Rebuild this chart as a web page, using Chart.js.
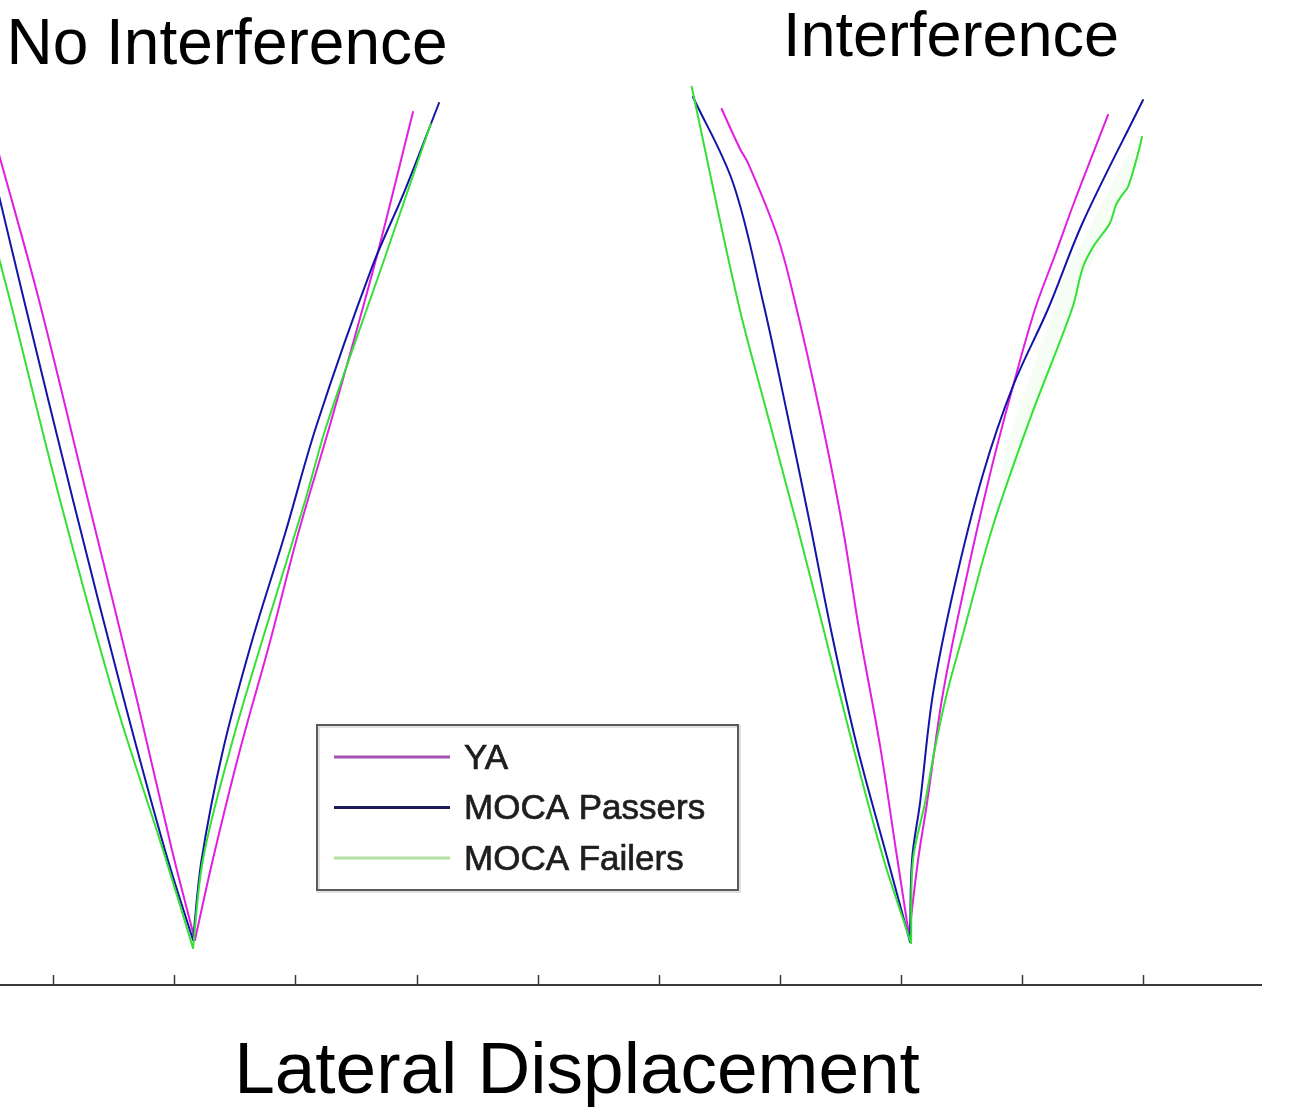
<!DOCTYPE html>
<html>
<head>
<meta charset="utf-8">
<title>Lateral Displacement</title>
<script src="https://cdn.jsdelivr.net/npm/chart.js@4.4.1/dist/chart.umd.min.js"></script>
<style>
  html, body { margin: 0; padding: 0; background: #ffffff; }
  #wrap { width: 1302px; height: 1107px; position: relative; }
</style>
</head>
<body>
<div id="wrap"><canvas id="chart" width="1302" height="1107"></canvas></div>
<script>
// x: lateral displacement (tick units), y: forward progress along the path (%)
const panelTitles = ['No Interference', 'Interference'];
const axisTitle = 'Lateral Displacement';
const seriesLabels = ['YA', 'MOCA Passers', 'MOCA Failers'];
const seriesColors = ['#e01fe0', '#1414a8', '#33e033'];
const legendLineColors = ['#a552b4', '#1c1c5c', '#b4e2a2'];

// No Interference
const yaNoIntX = [-0.558, -0.442, -0.120, 0.285, 0.690, 0.979, 1.169, 1.318, 1.541, 1.789, 2.021, 2.285, 2.657, 2.971];
const yaNoIntY = [97.44, 91.89, 76.11, 53.89, 31.67, 15.00, 5.00, 14.00, 26.11, 38.11, 50.11, 62.22, 80.22, 97.00];

const passNoIntX = [-0.640, -0.442, -0.244, 0.161, 0.583, 0.921, 1.153, 1.225, 1.401, 1.638, 1.913, 2.175, 2.630, 2.905, 3.186];
const passNoIntY = [98.33, 87.22, 76.11, 53.89, 31.67, 15.00, 5.00, 14.00, 26.11, 38.11, 50.11, 62.22, 79.67, 88.33, 98.00];

const failNoIntX = [-0.735, -0.442, -0.360, 0.054, 0.508, 0.905, 1.153, 1.236, 1.459, 1.721, 2.079, 2.258, 2.723, 3.117];
const failNoIntY = [96.11, 80.33, 76.11, 53.89, 31.67, 15.00, 4.11, 14.00, 26.11, 38.11, 53.78, 62.22, 80.22, 95.67];

// Interference
const yaIntX = [5.522, 5.674, 5.740, 5.979, 6.128, 6.335, 6.517, 6.665, 6.831, 6.971, 7.070, 7.145, 7.219, 7.351, 7.533, 7.740, 7.930, 8.112, 8.277, 8.442, 8.715];
const yaIntY = [97.33, 92.89, 91.33, 83.33, 75.89, 63.56, 51.22, 38.89, 26.56, 14.22, 5.56, 13.89, 20.22, 32.44, 44.56, 56.78, 66.56, 75.11, 81.11, 87.22, 96.67];

const passIntX = [5.285, 5.616, 5.864, 6.062, 6.252, 6.434, 6.640, 6.888, 7.079, 7.095, 7.161, 7.269, 7.450, 7.682, 7.930, 8.219, 8.508, 9.004];
const passIntY = [98.67, 89.11, 75.89, 63.56, 51.22, 38.89, 26.56, 14.22, 4.78, 13.89, 20.22, 32.44, 44.56, 56.78, 66.56, 75.11, 84.78, 98.33];

const failIntX = [5.274, 5.657, 5.897, 6.142, 6.376, 6.607, 6.855, 7.087, 7.103, 7.202, 7.285, 7.384, 7.508, 7.756, 8.070, 8.417, 8.508, 8.591, 8.649, 8.731, 8.781, 8.831, 8.880, 8.955, 8.996];
const failIntY = [99.81, 75.89, 63.56, 51.22, 38.89, 26.56, 14.22, 4.67, 13.89, 20.22, 26.33, 32.44, 38.56, 50.67, 62.89, 75.11, 79.78, 82.00, 83.11, 84.67, 86.67, 87.78, 88.67, 92.00, 94.22];

// Spread band around the MOCA Failers curve (Interference), traced as a closed outline
const failBandX = [8.996, 8.855, 8.673, 8.533, 8.351, 8.211, 8.029, 7.888, 7.822, 7.930, 8.045, 8.194, 8.384, 8.533, 8.698, 8.822, 8.979, 8.996];
const failBandY = [94.22, 91.67, 87.22, 83.33, 78.89, 72.78, 66.11, 60.56, 56.11, 56.11, 60.56, 66.11, 72.78, 78.89, 83.33, 87.22, 91.67, 94.22];

const pts = (xs, ys) => xs.map((x, i) => ({ x: x, y: ys[i] }));

const curves = [
  { s: 0, x: yaNoIntX, y: yaNoIntY },
  { s: 1, x: passNoIntX, y: passNoIntY },
  { s: 2, x: failNoIntX, y: failNoIntY },
  { s: 0, x: yaIntX, y: yaIntY },
  { s: 1, x: passIntX, y: passIntY },
  { s: 2, x: failIntX, y: failIntY }
];

// Each trajectory is drawn as two smoothed branches that meet at its lowest point,
// so the turning point stays sharp.
const datasets = [];
curves.forEach(c => {
  const p = pts(c.x, c.y);
  let k = 0;
  p.forEach((q, i) => { if (q.y < p[k].y) k = i; });
  [p.slice(0, k + 1), p.slice(k)].forEach(branch => {
    datasets.push({
      label: seriesLabels[c.s],
      data: branch,
      showLine: true,
      borderColor: seriesColors[c.s],
      borderWidth: 2,
      borderJoinStyle: 'round',
      borderCapStyle: 'round',
      pointRadius: 0,
      pointHoverRadius: 0,
      tension: 0.35,
      fill: false,
      order: 3 - c.s
    });
  });
});

datasets.push({
  label: 'band',
  data: pts(failBandX, failBandY),
  showLine: true,
  borderWidth: 0,
  borderColor: 'rgba(0,0,0,0)',
  backgroundColor: 'rgba(110, 225, 110, 0.07)',
  pointRadius: 0,
  tension: 0,
  fill: 'shape',
  order: 10
});

const FONT = "'Liberation Sans', Arial, Helvetica, sans-serif";

// Short tick marks pointing up into the plot from the x axis line
const innerTicks = {
  id: 'innerTicks',
  afterDraw(chart) {
    const sc = chart.scales.x;
    const ctx = chart.ctx;
    ctx.save();
    ctx.strokeStyle = '#3a3a3a';
    ctx.lineWidth = 1.5;
    sc.ticks.forEach(t => {
      const px = Math.round(sc.getPixelForValue(t.value)) + 0.5;
      ctx.beginPath();
      ctx.moveTo(px, sc.top);
      ctx.lineTo(px, sc.top - 10);
      ctx.stroke();
    });
    ctx.restore();
  }
};

// Panel headings and axis caption
const captions = {
  id: 'captions',
  afterDraw(chart) {
    const ctx = chart.ctx;
    ctx.save();
    ctx.fillStyle = '#000000';
    ctx.textAlign = 'center';
    ctx.textBaseline = 'alphabetic';
    ctx.font = '64px ' + FONT;
    ctx.fillText(panelTitles[0], 227, 64);
    ctx.font = '63px ' + FONT;
    ctx.fillText(panelTitles[1], 951, 56);
    ctx.font = '73px ' + FONT;
    ctx.fillText(axisTitle, 577, 1093);
    ctx.restore();
  }
};

// Boxed legend inside the plot area
const boxLegend = {
  id: 'boxLegend',
  afterDraw(chart) {
    const ctx = chart.ctx;
    const bx = 317, by = 725, bw = 421, bh = 165;
    ctx.save();
    ctx.fillStyle = '#ffffff';
    ctx.fillRect(bx, by, bw, bh);
    ctx.strokeStyle = 'rgba(0,0,0,0.12)';
    ctx.lineWidth = 3;
    ctx.strokeRect(bx + 1.5, by + 1.5, bw, bh);
    ctx.strokeStyle = '#5a5a5a';
    ctx.lineWidth = 2;
    ctx.strokeRect(bx, by, bw, bh);
    ctx.font = '35px ' + FONT;
    ctx.textAlign = 'left';
    ctx.textBaseline = 'middle';
    seriesLabels.forEach((lab, i) => {
      const y = 757 + i * 50.5;
      ctx.strokeStyle = legendLineColors[i];
      ctx.lineWidth = 3;
      ctx.beginPath();
      ctx.moveTo(334, y);
      ctx.lineTo(450, y);
      ctx.stroke();
      ctx.fillStyle = '#1e1e1e';
      ctx.strokeStyle = '#1e1e1e';
      ctx.lineWidth = 0.7;
      ctx.fillText(lab, 464, y + 2);
      ctx.strokeText(lab, 464, y + 2);
    });
    ctx.restore();
  }
};

new Chart(document.getElementById('chart'), {
  type: 'scatter',
  data: { datasets: datasets },
  options: {
    responsive: false,
    animation: false,
    devicePixelRatio: 1,
    layout: { autoPadding: false, padding: { left: 0, right: 41, top: 85, bottom: 122 } },
    plugins: {
      legend: { display: false },
      tooltip: { enabled: false },
      title: { display: false }
    },
    scales: {
      x: {
        type: 'linear',
        min: -0.442,
        max: 9.979,
        ticks: { display: false, stepSize: 1, includeBounds: false },
        grid: { display: true, drawOnChartArea: false, drawTicks: false },
        border: { display: true, color: '#3a3a3a', width: 2 }
      },
      y: {
        type: 'linear',
        display: false,
        min: 0,
        max: 100
      }
    }
  },
  plugins: [innerTicks, captions, boxLegend]
});
</script>
</body>
</html>
